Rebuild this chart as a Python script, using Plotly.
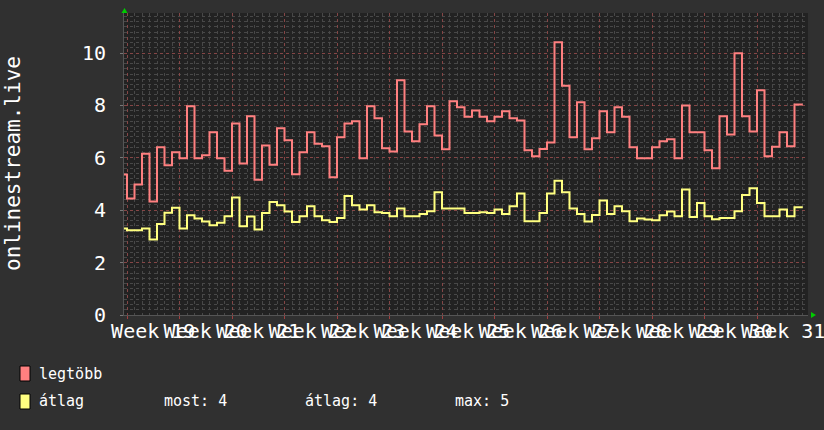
import plotly.graph_objects as go

# ---- data (daily values, first entry is the partial day before Week 19) ----
week_labels = ["Week 19", "Week 20", "Week 21", "Week 22", "Week 23", "Week 24", "Week 25",
               "Week 26", "Week 27", "Week 28", "Week 29", "Week 30", "Week 31"]

legtobb = [5.36, 4.45, 4.98, 6.16, 4.33, 6.40, 5.72, 6.21, 5.98, 7.97, 5.98, 6.10, 6.98, 5.98, 5.51,
           7.31, 5.78, 7.59, 5.16, 6.47, 5.74, 7.13, 6.67, 5.37, 6.21, 6.98, 6.54, 6.44, 5.26, 6.79,
           7.31, 7.40, 5.98, 7.97, 7.51, 6.37, 6.24, 8.96, 7.01, 6.63, 7.28, 7.97, 6.85, 6.33, 8.16,
           7.93, 7.57, 7.81, 7.57, 7.40, 7.57, 7.78, 7.51, 7.43, 6.29, 6.06, 6.34, 6.59, 10.41, 8.75,
           6.79, 8.12, 6.33, 6.75, 7.78, 6.98, 7.93, 7.57, 6.40, 5.98, 5.98, 6.40, 6.63, 6.71, 5.98,
           8.00, 6.98, 6.98, 6.29, 5.60, 7.59, 6.89, 9.99, 7.59, 7.01, 8.58, 6.06, 6.42, 6.98, 6.44,
           8.04]

atlag = [3.30, 3.24, 3.24, 3.30, 2.88, 3.47, 3.90, 4.09, 3.30, 3.81, 3.68, 3.57, 3.43, 3.52, 3.77,
         4.49, 3.39, 3.76, 3.26, 3.89, 4.31, 4.19, 3.95, 3.55, 3.77, 4.15, 3.77, 3.62, 3.55, 3.70,
         4.54, 4.19, 4.03, 4.19, 3.92, 3.89, 3.77, 4.07, 3.77, 3.77, 3.86, 3.96, 4.69, 4.07, 4.07,
         4.07, 3.89, 3.89, 3.92, 3.89, 4.03, 3.86, 4.15, 4.64, 3.58, 3.58, 3.89, 4.64, 5.13, 4.69,
         4.07, 3.86, 3.57, 3.82, 4.37, 3.86, 4.15, 3.96, 3.58, 3.68, 3.65, 3.62, 3.81, 3.95, 3.77,
         4.79, 3.74, 4.28, 3.77, 3.66, 3.70, 3.70, 3.96, 4.58, 4.84, 4.28, 3.77, 3.77, 4.03, 3.77,
         4.11]

y_ticks = [0, 2, 4, 6, 8, 10]

# ---- geometry ----
W, H = 824, 430
L, R, T, B = 124, 16, 13, 115
PW, PH = W - L - R, H - T - B
X0, X1 = -0.4, 90.8
Y0, Y1 = 0, 11.53

def px(xp):
    return (xp - L) / PW

def py(yp):
    return (H - B - yp) / PH

# step x positions: partial first day, then one step per day, closing point at end
xs = [X0] + list(range(len(legtobb) - 1))
xs_closed = xs + [len(legtobb) - 1 + 0.1]

RED = "#ff8080"
YEL = "#ffff80"
FONT = "DejaVu Sans Mono"

fig = go.Figure()
fig.add_trace(go.Scatter(x=xs_closed, y=legtobb + [legtobb[-1]], mode="lines",
                         line=dict(color=RED, width=2, shape="hv"), hoverinfo="skip"))
fig.add_trace(go.Scatter(x=xs_closed, y=atlag + [atlag[-1]], mode="lines",
                         line=dict(color=YEL, width=2, shape="hv"), hoverinfo="skip"))
fig.add_trace(go.Scatter(x=[], y=[], xaxis="x2", showlegend=False, hoverinfo="skip"))

GRID_MAJ = "rgba(175,70,70,0.6)"
GRID_MIN = "#484848"

week_bounds = [7 * k for k in range(len(week_labels) + 1)]
week_mids = [7 * k + 3.5 for k in range(len(week_labels))]

fig.update_layout(
    width=W, height=H,
    margin=dict(l=L, r=R, t=T, b=B, autoexpand=False),
    paper_bgcolor="#303030", plot_bgcolor="#222222",
    showlegend=False,
    xaxis=dict(range=[X0, X1], tickmode="array", tickvals=week_bounds, showticklabels=False,
               showgrid=True, gridcolor=GRID_MAJ, griddash="dot", gridwidth=1,
               ticks="outside", ticklen=3, tickcolor="#a04040", automargin=False,
               minor=dict(tick0=0, dtick=1, showgrid=True, gridcolor=GRID_MIN, griddash="dot",
                          gridwidth=1),
               zeroline=False, showline=True, linecolor="#555555", linewidth=1, fixedrange=True),
    xaxis2=dict(range=[X0, X1], overlaying="x", anchor="y", side="bottom", tickmode="array",
                tickvals=week_mids, ticktext=week_labels, showgrid=False, ticks="",
                tickangle=0, automargin=False, ticklabeloverflow="allow",
                tickfont=dict(family=FONT, size=20, color="#ffffff"), ticklabelstandoff=2,
                zeroline=False, showline=False),
    yaxis=dict(range=[Y0, Y1], tickmode="array", tickvals=y_ticks, automargin=False,
               tickfont=dict(family=FONT, size=20, color="#ffffff"),
               showgrid=True, gridcolor=GRID_MAJ, griddash="dot", gridwidth=1,
               minor=dict(tick0=0, dtick=0.2, showgrid=True, gridcolor=GRID_MIN, griddash="dot",
                          gridwidth=1),
               ticks="outside", ticklen=3, tickcolor="#777777", ticklabelstandoff=10,
               zeroline=False, showline=True, linecolor="#555555", linewidth=1, fixedrange=True),
)

# y-axis title
fig.add_annotation(text="onlinestream.live", xref="paper", yref="paper",
                   x=px(13), y=py(164), xanchor="center", yanchor="middle", textangle=-90,
                   showarrow=False, font=dict(family=FONT, size=21, color="#ffffff"))

# green arrows
fig.add_shape(type="path", xref="paper", yref="paper",
              path=f"M {px(121.5)} {py(13)} L {px(127.5)} {py(13)} L {px(124.5)} {py(8)} Z",
              fillcolor="#00cc00", line=dict(width=0))
fig.add_shape(type="path", xref="paper", yref="paper",
              path=f"M {px(811)} {py(312)} L {px(811)} {py(318)} L {px(816)} {py(315)} Z",
              fillcolor="#00cc00", line=dict(width=0))

# legend
LEGF = dict(family=FONT, size=15, color="#ffffff")
fig.add_shape(type="rect", xref="paper", yref="paper", x0=px(20), x1=px(30), y0=py(381), y1=py(366),
              fillcolor=RED, line=dict(color="#000000", width=1))
fig.add_shape(type="rect", xref="paper", yref="paper", x0=px(20), x1=px(30), y0=py(409), y1=py(394),
              fillcolor=YEL, line=dict(color="#000000", width=1))

cur = atlag[-1]
avg = sum(atlag) / len(atlag)
mx = max(atlag)
legend_items = [("legtöbb", 37, 374), ("átlag", 37, 401),
                (f"most: {cur:.0f}", 162, 401), (f"átlag: {avg:.0f}", 303, 401),
                (f"max: {mx:.0f}", 453, 401)]
for txt, xp, yp in legend_items:
    fig.add_annotation(text=txt, xref="paper", yref="paper", x=px(xp), y=py(yp),
                       xanchor="left", yanchor="middle", showarrow=False, font=LEGF)

fig.write_html("out.html", config={"displayModeBar": False},
               post_script="document.body.style.margin='0';document.body.style.padding='0';"
                           "document.body.style.background='#303030';")
